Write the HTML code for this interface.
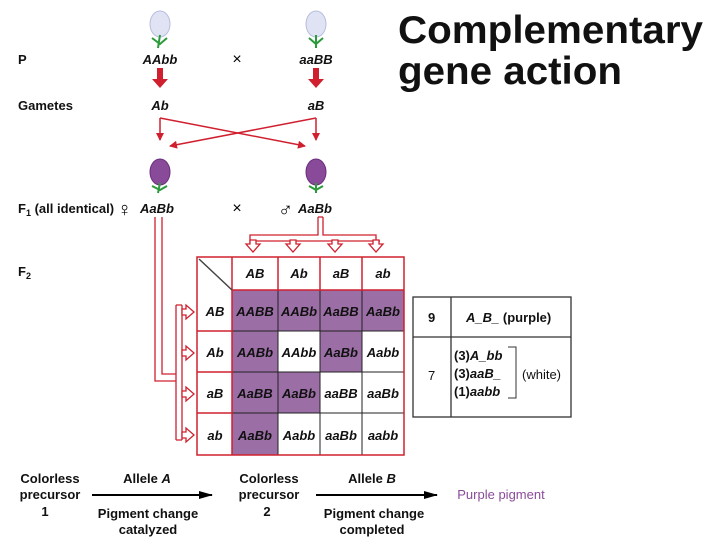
<!DOCTYPE html>
<html><head><style>
body{margin:0;background:#fff;}
svg{display:block;font-family:"Liberation Sans",sans-serif;}
</style></head><body>
<svg width="720" height="540" viewBox="0 0 720 540">
<defs>
<marker id="ah" markerWidth="8" markerHeight="8" refX="7" refY="4" orient="auto" markerUnits="userSpaceOnUse"><path d="M0,0 L8,4 L0,8 z" fill="#d0202f"/></marker>
<marker id="bk" markerWidth="14" markerHeight="8" refX="13" refY="4" orient="auto" markerUnits="userSpaceOnUse"><path d="M0,0 L14,4 L0,8 z" fill="#000"/></marker>
</defs>
<text x="398" y="43" font-size="39" font-weight="bold" fill="#111" textLength="305" lengthAdjust="spacingAndGlyphs">Complementary</text>
<text x="398" y="84" font-size="39" font-weight="bold" fill="#111" textLength="224" lengthAdjust="spacingAndGlyphs">gene action</text>

<g font-size="13" font-weight="bold" fill="#111">
<text x="18" y="64">P</text>
<text x="18" y="110">Gametes</text>
<text x="18" y="213">F<tspan font-size="9" dy="3">1</tspan><tspan dy="-3"> (all identical)</tspan></text>
<text x="18" y="276">F<tspan font-size="9" dy="3">2</tspan></text>
</g>
<g font-size="13" font-weight="bold" font-style="italic" fill="#111" text-anchor="middle">
<text x="160" y="64">AAbb</text><text x="316" y="64">aaBB</text>
<text x="160" y="110">Ab</text><text x="316" y="110">aB</text>
<text x="157" y="213">AaBb</text><text x="315" y="213">AaBb</text>
</g>
<text x="237" y="64" font-size="16" text-anchor="middle">×</text>
<text x="237" y="213" font-size="16" text-anchor="middle">×</text>
<text x="117" y="216" font-size="20" font-weight="bold">♀</text>
<text x="278" y="216" font-size="20" font-weight="bold">♂</text>

<!-- flowers -->
<g>
<ellipse cx="160" cy="24" rx="10" ry="13" fill="#dfe3f3" stroke="#b8bedd"/>
<path d="M160 35 L158 48 M152 38 L160 44 L167 38" stroke="#2a9a3a" stroke-width="2" fill="none"/>
<ellipse cx="316" cy="24" rx="10" ry="13" fill="#dfe3f3" stroke="#b8bedd"/>
<path d="M316 35 L316 48 M309 38 L316 44 L323 38" stroke="#2a9a3a" stroke-width="2" fill="none"/>
<ellipse cx="160" cy="172" rx="10" ry="13" fill="#8a4a9a" stroke="#6a2e7a"/>
<path d="M160 183 L158 193 M152 186 L160 190 L167 186" stroke="#2a9a3a" stroke-width="2" fill="none"/>
<ellipse cx="316" cy="172" rx="10" ry="13" fill="#8a4a9a" stroke="#6a2e7a"/>
<path d="M316 183 L316 193 M309 186 L316 190 L323 186" stroke="#2a9a3a" stroke-width="2" fill="none"/>
</g>

<path d="M157 68 h6 v11 h5 l-8 9 l-8 -9 h5 z" fill="#d0202f"/>
<path d="M313 68 h6 v11 h5 l-8 9 l-8 -9 h5 z" fill="#d0202f"/>
<g stroke="#d0202f" stroke-width="1.5" fill="none">
<path d="M160 118 V140" marker-end="url(#ah)"/>
<path d="M316 118 V140" marker-end="url(#ah)"/>
<path d="M160 118 L305 146" marker-end="url(#ah)"/>
<path d="M316 118 L170 146" marker-end="url(#ah)"/>
</g>

<g stroke="#d0202f" stroke-width="1.3" fill="none">
<path d="M155 217 V381 H176"/>
<path d="M162 217 V374 H176"/>
<path d="M176 305 V440"/><path d="M182 305 V440"/>
<path d="M176 305 H182 M176 440 H182"/>
<path d="M318 217 V235 H250 V244 M323 217 V235 H376 V244"/>
<path d="M318 217 H323"/>
<path d="M254 241 H380"/>
</g>
<g fill="#fff" stroke="#d0202f" stroke-width="1.3">
<path d="M250 240 h6 v4 h4 l-7 8 l-7 -8 h4 z"/>
<path d="M290 240 h6 v4 h4 l-7 8 l-7 -8 h4 z"/>
<path d="M332 240 h6 v4 h4 l-7 8 l-7 -8 h4 z"/>
<path d="M373 240 h6 v4 h4 l-7 8 l-7 -8 h4 z"/>
<path d="M182 309 h4 v-4 l8 7 l-8 7 v-4 h-4 z"/>
<path d="M182 350 h4 v-4 l8 7 l-8 7 v-4 h-4 z"/>
<path d="M182 391 h4 v-4 l8 7 l-8 7 v-4 h-4 z"/>
<path d="M182 432 h4 v-4 l8 7 l-8 7 v-4 h-4 z"/>
</g>

<g>
<rect x="232" y="290" width="172" height="41" fill="#9b6fa6"/>
<rect x="232" y="331" width="46" height="41" fill="#9b6fa6"/>
<rect x="320" y="331" width="42" height="41" fill="#9b6fa6"/>
<rect x="232" y="372" width="88" height="41" fill="#9b6fa6"/>
<rect x="232" y="413" width="46" height="42" fill="#9b6fa6"/>
<g stroke="#222" stroke-width="1">
<path d="M232 331 H404 M232 372 H404 M232 413 H404 M278 290 V455 M320 290 V455 M362 290 V455"/>
</g>
<g stroke="#d0202f" stroke-width="1.5" fill="none">
<rect x="197" y="257" width="207" height="198"/>
<path d="M232 290 H404 M197 331 H232 M197 372 H232 M197 413 H232 M232 257 V455 M278 257 V290 M320 257 V290 M362 257 V290"/>
<path d="M199 259 L232 290" stroke="#444"/>
</g>
</g>
<g font-size="13" font-weight="bold" font-style="italic" fill="#111" text-anchor="middle">
<text x="255" y="278">AB</text><text x="299" y="278">Ab</text><text x="341" y="278">aB</text><text x="383" y="278">ab</text>
<text x="215" y="316">AB</text><text x="215" y="357">Ab</text><text x="215" y="398">aB</text><text x="215" y="440">ab</text>
<text x="255" y="316">AABB</text><text x="299" y="316">AABb</text><text x="341" y="316">AaBB</text><text x="383" y="316">AaBb</text>
<text x="255" y="357">AABb</text><text x="299" y="357">AAbb</text><text x="341" y="357">AaBb</text><text x="383" y="357">Aabb</text>
<text x="255" y="398">AaBB</text><text x="299" y="398">AaBb</text><text x="341" y="398">aaBB</text><text x="383" y="398">aaBb</text>
<text x="255" y="440">AaBb</text><text x="299" y="440">Aabb</text><text x="341" y="440">aaBb</text><text x="383" y="440">aabb</text>
</g>

<rect x="413" y="297" width="158" height="120" fill="#fff" stroke="#333" stroke-width="1.3"/>
<path d="M413 337 H571 M451 297 V417" stroke="#333" stroke-width="1.3"/>
<g font-size="13" font-weight="bold" fill="#111">
<text x="428" y="322">9</text>
<text x="466" y="322" font-style="italic">A_B_ <tspan font-style="normal">(purple)</tspan></text>
<text x="428" y="380" font-weight="normal">7</text>
<text x="454" y="360">(3)<tspan font-style="italic">A_bb</tspan></text>
<text x="454" y="378">(3)<tspan font-style="italic">aaB_</tspan></text>
<text x="454" y="396">(1)<tspan font-style="italic">aabb</tspan></text>
<text x="522" y="379" font-weight="normal">(white)</text>
</g>
<path d="M508 347 H516 V398 H508" stroke="#333" fill="none"/>

<g font-size="13" font-weight="bold" fill="#111" text-anchor="middle">
<text x="50" y="483">Colorless</text><text x="50" y="499">precursor</text><text x="45" y="516">1</text>
<text x="147" y="483">Allele <tspan font-style="italic">A</tspan></text>
<text x="148" y="518">Pigment change</text><text x="148" y="534">catalyzed</text>
<text x="269" y="483">Colorless</text><text x="269" y="499">precursor</text><text x="267" y="516">2</text>
<text x="372" y="483">Allele <tspan font-style="italic">B</tspan></text>
<text x="374" y="518">Pigment change</text><text x="372" y="534">completed</text>
<text x="501" y="499" fill="#8a4a9a" font-weight="normal">Purple pigment</text>
</g>
<path d="M92 495 H212" stroke="#000" stroke-width="2" marker-end="url(#bk)"/>
<path d="M316 495 H437" stroke="#000" stroke-width="2" marker-end="url(#bk)"/>
</svg>
</body></html>
